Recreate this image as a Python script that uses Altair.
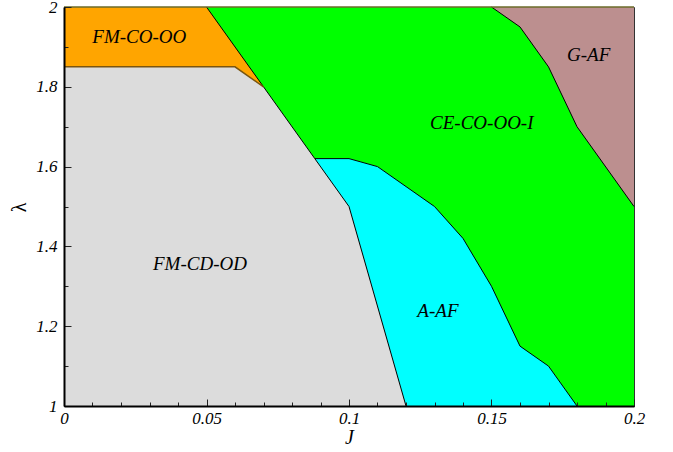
import altair as alt
import pandas as pd

# ---- data ----
# full plot (background phase CE-CO-OO-I)
J_full = [0.0, 0.2]
lam_full_top = [2.0, 2.0]
lam_full_bot = [1.0, 1.0]

# FM-CO-OO (orange) region
J_orange = [0.0, 0.05, 0.06, 0.07]
lam_orange_top = [2.0, 2.0, 1.9, 1.8]
lam_orange_bot = [1.85, 1.85, 1.85, 1.8]

# FM-CD-OD (grey) upper boundary
J_grey = [0.0, 0.06, 0.07, 0.088, 0.1, 0.12]
lam_grey = [1.85, 1.85, 1.8, 1.62, 1.5, 1.0]

# A-AF / CE-CO-OO-I boundary (cyan upper boundary)
J_cyan = [0.088, 0.1, 0.11, 0.13, 0.14, 0.15, 0.16, 0.17, 0.18]
lam_cyan = [1.62, 1.62, 1.6, 1.5, 1.42, 1.3, 1.15, 1.1, 1.0]

# G-AF / CE-CO-OO-I boundary (brown lower boundary)
J_brown = [0.15, 0.16, 0.17, 0.18, 0.2]
lam_brown = [2.0, 1.95, 1.85, 1.7, 1.5]

# left boundary (orange|grey / green|cyan)
J_left = [0.05, 0.07, 0.088, 0.1, 0.12]
lam_left = [2.0, 1.8, 1.62, 1.5, 1.0]

# orange / grey boundary
J_og = [0.0, 0.06, 0.07]
lam_og = [1.85, 1.85, 1.8]

# region labels
lab_text = ["FM-CO-OO", "CE-CO-OO-I", "G-AF", "FM-CD-OD", "A-AF"]
lab_J = [0.0264, 0.1466, 0.1841, 0.0477, 0.1312]
lab_lam = [1.925, 1.7085, 1.880, 1.356, 1.238]

# ticks
x_major = [0.0, 0.05, 0.1, 0.15, 0.2]
x_minor = [round(i * 0.01, 2) for i in range(21)]
y_major = [1.0, 1.2, 1.4, 1.6, 1.8, 2.0]
y_minor = [round(1 + i * 0.1, 1) for i in range(11)]

FONT = "Liberation Serif, Tinos, Times New Roman, DejaVu Serif, serif"

xscale = alt.Scale(domain=[0, 0.2], nice=False, zero=False)
yscale = alt.Scale(domain=[1, 2], nice=False, zero=False)

main_x_axis = alt.Axis(values=x_major, format="~g", title="J", ticks=False,
                       domainColor="black", domainWidth=2, grid=False, zindex=2,
                       labelFont=FONT, labelFontStyle="italic", labelFontSize=17,
                       labelColor="black", labelPadding=4, labelFlush=False,
                       titleFont=FONT, titleFontStyle="italic", titleFontSize=20,
                       titleFontWeight="normal", titleColor="black", titlePadding=1)
main_y_axis = alt.Axis(values=y_major, format="~g", title="λ", ticks=False,
                       domainColor="black", domainWidth=2, grid=False, zindex=2,
                       labelFont=FONT, labelFontStyle="italic", labelFontSize=17,
                       labelColor="black", labelPadding=7, labelFlush=False,
                       titleFont=FONT, titleFontStyle="normal", titleFontSize=20,
                       titleFontWeight="normal", titleColor="black",
                       titleX=-45, titleY=200, titleAlign="center",
                       titleBaseline="middle", titleAngle=-90)


def tick_axis(vals, size, orient):
    return alt.Axis(values=vals, orient=orient, domain=False, labels=False,
                    ticks=True, tickSize=size, tickColor="#222222", tickWidth=1,
                    offset=-size, grid=False, title=None, zindex=1)


def df(J, lam, lam2=None):
    d = {"J": J, "lam": lam}
    if lam2 is not None:
        d["lam2"] = lam2
    return pd.DataFrame(d)


green = alt.Chart(df(J_full, lam_full_top, lam_full_bot)).mark_area(
    color="#00FF00", opacity=1
).encode(
    x=alt.X("J:Q", scale=xscale, axis=main_x_axis),
    y=alt.Y("lam:Q", scale=yscale, axis=main_y_axis),
    y2="lam2:Q",
)

brown = alt.Chart(df(J_brown, lam_brown, [2.0] * len(J_brown))).mark_area(
    color="#BC8F8F", opacity=1
).encode(
    x=alt.X("J:Q", scale=xscale, axis=tick_axis(x_major, 7, "bottom")),
    y=alt.Y("lam:Q", scale=yscale, axis=tick_axis(y_major, 7, "left")),
    y2="lam2:Q",
)

cyan = alt.Chart(df(J_cyan, lam_cyan, [1.0] * len(J_cyan))).mark_area(
    color="#00FFFF", opacity=1
).encode(
    x=alt.X("J:Q", scale=xscale, axis=tick_axis(x_minor, 4, "bottom")),
    y=alt.Y("lam:Q", scale=yscale, axis=tick_axis(y_minor, 4, "left")),
    y2="lam2:Q",
)

grey = alt.Chart(df(J_grey, lam_grey, [1.0] * len(J_grey))).mark_area(
    color="#DCDCDC", opacity=1
).encode(
    x=alt.X("J:Q", scale=xscale, axis=None),
    y=alt.Y("lam:Q", scale=yscale, axis=None),
    y2="lam2:Q",
)

orange = alt.Chart(df(J_orange, lam_orange_top, lam_orange_bot)).mark_area(
    color="#FFA500", opacity=1
).encode(
    x=alt.X("J:Q", scale=xscale, axis=None),
    y=alt.Y("lam:Q", scale=yscale, axis=None),
    y2="lam2:Q",
)


def bline(J, lam, color, width=1):
    return alt.Chart(df(J, lam)).mark_line(color=color, strokeWidth=width).encode(
        x=alt.X("J:Q", scale=xscale, axis=None),
        y=alt.Y("lam:Q", scale=yscale, axis=None),
    )


lines = [
    bline(J_left, lam_left, "black"),
    bline(J_cyan, lam_cyan, "black"),
    bline(J_brown, lam_brown, "black"),
    bline(J_og, lam_og, "#7a5510", 1.5),
    bline(J_full, lam_full_top, "#6b6b2a", 1.5),
]

labels = alt.Chart(pd.DataFrame({"J": lab_J, "lam": lab_lam, "t": lab_text})).mark_text(
    font=FONT, fontStyle="italic", fontSize=19, color="black",
    align="center", baseline="middle"
).encode(
    x=alt.X("J:Q", scale=xscale, axis=None),
    y=alt.Y("lam:Q", scale=yscale, axis=None),
    text="t:N",
)

chart = alt.layer(green, brown, cyan, grey, orange, *lines, labels).resolve_axis(
    x="independent", y="independent"
).properties(
    width=570, height=399,
    autosize=alt.AutoSizeParams(type="none"),
    padding={"left": 64, "top": 7, "right": 39, "bottom": 46},
).configure_view(stroke="#333333", strokeWidth=1)

chart.save("out.html", embed_options={"renderer": "svg", "actions": False})
